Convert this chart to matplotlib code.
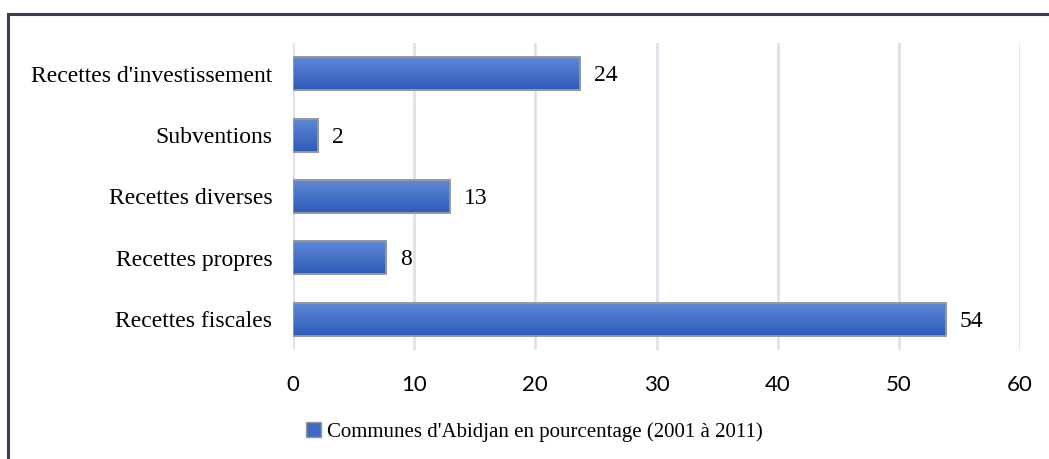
import matplotlib

matplotlib.use("Agg")

import numpy as np
import matplotlib.pyplot as plt
from matplotlib.patches import Patch, Rectangle


categories = [
    "Recettes fiscales",
    "Recettes propres",
    "Recettes diverses",
    "Subventions",
    "Recettes d'investissement",
]
values = [53.9, 7.7, 12.95, 2.1, 23.7]
value_labels = ["54", "8", "13", "2", "24"]
x_ticks = [0, 10, 20, 30, 40, 50, 60]
legend_label = "Communes d'Abidjan en pourcentage (2001 à 2011)"

SERIF = ["Liberation Serif", "DejaVu Serif"]
SANS = ["Lato", "DejaVu Sans"]
BAR_TOP = "#6089d6"
BAR_BOTTOM = "#2d5bb9"
BAR_EDGE = "#9a9a9a"
GRID = "#dcdfe8"
FRAME = "#353f50"

fig = plt.figure(figsize=(10.49, 4.59), dpi=100)
fig.patch.set_facecolor("white")

# frame of the chart area (open at right and bottom, as cropped)
fig.add_artist(Rectangle((8 / 1049, -0.1), 1.2, 1 - 14 / 459 + 0.1,
                         transform=fig.transFigure, fill=False,
                         edgecolor=FRAME, linewidth=2.2, zorder=0))

ax = fig.add_axes([293 / 1049, 1 - 350 / 459, 727 / 1049, 307 / 459])
ypos = np.arange(len(categories))
bars = ax.barh(ypos, values, height=0.54, color=BAR_BOTTOM,
               edgecolor=BAR_EDGE, linewidth=1.3, zorder=3)

# vertical gradient on each bar
grad = np.linspace(0, 1, 64).reshape(-1, 1)
cmap = matplotlib.colors.LinearSegmentedColormap.from_list("bar", [BAR_BOTTOM, BAR_TOP])
for b in bars:
    x0, y0 = b.get_x(), b.get_y()
    im = ax.imshow(grad, extent=(x0, x0 + b.get_width(), y0, y0 + b.get_height()),
                   origin="lower", cmap=cmap, aspect="auto", zorder=3.5)
    im.set_clip_path(b)
    b2 = Rectangle((x0, y0), b.get_width(), b.get_height(), fill=False,
                   edgecolor=BAR_EDGE, linewidth=1.3, zorder=4)
    ax.add_patch(b2)

texts = ax.bar_label(bars, labels=value_labels, padding=10, fontsize=17,
                     family=SERIF, color="black", zorder=5)
for t in texts:
    t.xyann = (10, -1.5)

ax.set_xlim(0, 60)
ax.set_ylim(-0.5, len(categories) - 0.5)
ax.set_xticks(x_ticks)
ax.set_yticks(ypos)
ax.set_yticklabels(categories, family=SERIF, fontsize=17)
ax.set_xticklabels([str(t) for t in x_ticks], family=SANS, fontsize=16)
ax.tick_params(axis="both", length=0, colors="black")
ax.tick_params(axis="y", pad=15)
ax.tick_params(axis="x", pad=18)
ax.grid(axis="x", color=GRID, linewidth=1.8, zorder=0)
ax.set_axisbelow(True)
for s in ax.spines.values():
    s.set_visible(False)

handle = Patch(facecolor="#3f6ac6", edgecolor=BAR_EDGE, linewidth=1.0)
fig.legend(handles=[handle], labels=[legend_label], loc="center",
           bbox_to_anchor=(534 / 1049, 1 - 432 / 459), frameon=False,
           handlelength=0.75, handleheight=0.75, handletextpad=0.25,
           prop={"family": SERIF, "size": 15})

fig.savefig("out.png", dpi=100, facecolor="white")
